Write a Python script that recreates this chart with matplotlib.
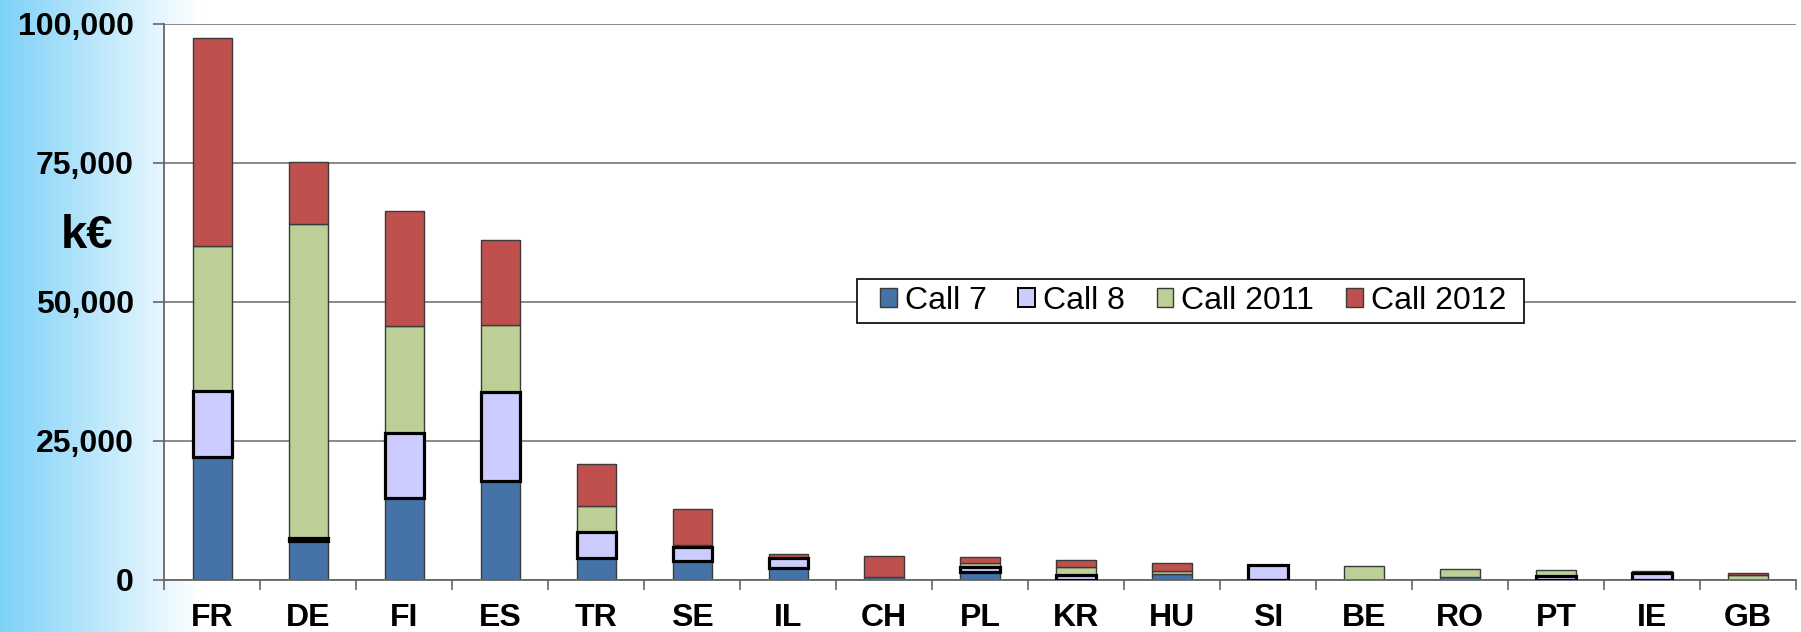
import matplotlib.pyplot as plt
import numpy as np
from matplotlib.patches import Rectangle, Patch
from matplotlib.ticker import FuncFormatter

plt.rcParams['font.family'] = ['Liberation Sans', 'DejaVu Sans']

countries = ['FR', 'DE', 'FI', 'ES', 'TR', 'SE', 'IL', 'CH', 'PL', 'KR',
             'HU', 'SI', 'BE', 'RO', 'PT', 'IE', 'GB']
call7 = [22000, 7000, 14700, 17800, 3800, 3400, 2150, 400, 1400, 0,
         950, 0, 0, 500, 0, 0, 0]
call8 = [11900, 500, 11700, 16000, 4800, 2400, 1700, 0, 900, 850,
         0, 2600, 0, 0, 700, 1100, 0]
call2011 = [26100, 56400, 19200, 12000, 4600, 350, 0, 0, 600, 1450,
            550, 0, 2350, 1400, 950, 450, 800]
call2012 = [37500, 11300, 20700, 15300, 7500, 6550, 800, 3850, 1200, 1200,
            1550, 0, 0, 0, 0, 0, 400]

series = [('Call 7', call7, '#4572A7'),
          ('Call 8', call8, '#CCCCFF'),
          ('Call 2011', call2011, '#BBCF97'),
          ('Call 2012', call2012, '#C0504D')]

W, H = 1801, 632
fig = plt.figure(figsize=(W / 100, H / 100), dpi=100)

# light blue gradient on the left edge
bg = fig.add_axes([0, 0, 1, 1], zorder=-1)
bg.axis('off')
xs = np.linspace(0, 1, W)
t = np.clip(xs / (200 / W), 0, 1)
left = np.array([0.49, 0.82, 0.97])
row = left[None, :] * (1 - t[:, None]) + np.ones(3)[None, :] * t[:, None]
bg.imshow(row[None, :, :], aspect='auto', extent=[0, 1, 0, 1])
bg.set_xlim(0, 1)
bg.set_ylim(0, 1)

x0, x1 = 164.3, 1796
y_top, y_bot = 23.8, 579.5
ax = fig.add_axes([x0 / W, 1 - y_bot / H, (x1 - x0) / W, (y_bot - y_top) / H])
ax.set_facecolor('white')

x = np.arange(len(countries))
bottom = np.zeros(len(countries))
handles = []
for name, vals, color in series:
    vals = np.array(vals, dtype=float)
    if name == 'Call 8':
        lw = np.where(vals > 0, 2.3, 0)
        ec, z = 'black', 3
    else:
        lw = np.where(vals > 0, 1.0, 0)
        ec, z = '#3a3a3a', 2
    ax.bar(x, vals, 0.41, bottom=bottom, color=color, edgecolor=ec,
           linewidth=lw, zorder=z)
    handles.append(Patch(facecolor=color, edgecolor='black' if name == 'Call 8' else '#3a3a3a',
                         linewidth=1.4 if name == 'Call 8' else 1.0, label=name))
    bottom += vals

ax.set_xlim(-0.5, len(countries) - 0.5)
ax.set_ylim(0, 100000)
ax.set_yticks(np.arange(0, 100001, 25000))
ax.yaxis.set_major_formatter(FuncFormatter(lambda v, p: f'{int(v):,}'))
ax.grid(axis='y', color='#808080', linewidth=1.3)
ax.set_axisbelow(True)

ax.set_xticks(x)
ax.set_xticklabels(countries)
ax.set_xticks(np.arange(-0.5, len(countries), 1), minor=True)
ax.tick_params(axis='x', which='major', length=0, pad=17)
ax.tick_params(axis='x', which='minor', length=7.2, width=1.2, color='#666666')
ax.tick_params(axis='y', length=7.9, width=1.2, color='#666666', pad=14)
for lab in ax.get_xticklabels() + ax.get_yticklabels():
    lab.set_fontsize(23)
    lab.set_fontweight('bold')

for s in ['top', 'right']:
    ax.spines[s].set_visible(False)
for s in ['left', 'bottom']:
    ax.spines[s].set_color('#666666')
    ax.spines[s].set_linewidth(1.3)

fig.text(87 / W, 1 - 236 / H, 'k€', fontsize=34, fontweight='bold',
         ha='center', va='center')

# legend box
lx0 = (857 - x0) / (x1 - x0)
lx1 = (1524 - x0) / (x1 - x0)
ly0 = (y_bot - 323) / (y_bot - y_top)
ly1 = (y_bot - 279) / (y_bot - y_top)
ax.add_patch(Rectangle((lx0, ly0), lx1 - lx0, ly1 - ly0, transform=ax.transAxes,
                       facecolor='white', edgecolor='black', linewidth=1.2,
                       zorder=4))
leg = ax.legend(handles=handles, loc='center', bbox_to_anchor=(0.6305, 0.501),
                ncol=4, frameon=False, fontsize=23, borderpad=0,
                handlelength=0.52, handleheight=0.52, handletextpad=0.25,
                columnspacing=1.0)
leg.set_zorder(5)

fig.savefig('out.png', dpi=100)
